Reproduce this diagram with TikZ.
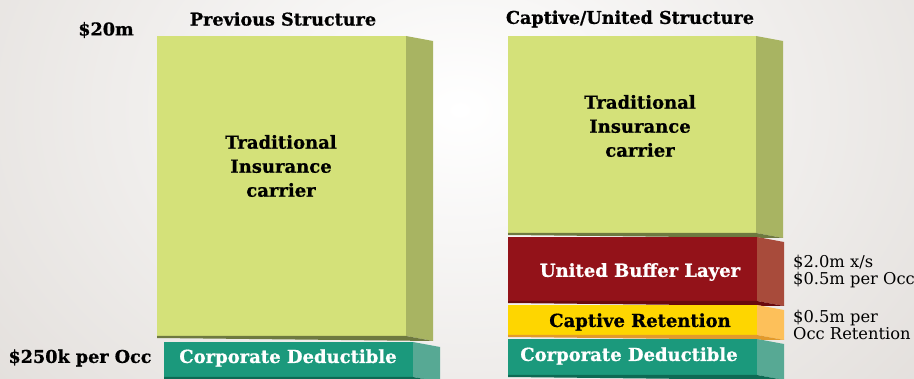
\documentclass[tikz,border=0pt]{standalone}
\usepackage{fontspec}
\setmainfont{DejaVu Serif}
\newfontfamily\slabfont[BoldFeatures={FakeBold=0.8}]{DejaVu Serif}
\newfontfamily\notefont{DejaVu Serif}
\begin{document}
\definecolor{bggray}{HTML}{CCC5BF}
\definecolor{grnF}{HTML}{D4E179}
\definecolor{grnS}{HTML}{A8B462}
\definecolor{grnB}{HTML}{6E7940}
\definecolor{redF}{HTML}{931219}
\definecolor{redS}{HTML}{A84B3B}
\definecolor{redB}{HTML}{6A090D}
\definecolor{ylwF}{HTML}{FED600}
\definecolor{ylwS}{HTML}{FDC05A}
\definecolor{ylwB}{HTML}{E29A2C}
\definecolor{tealF}{HTML}{1B997C}
\definecolor{tealS}{HTML}{57A994}
\definecolor{tealB}{HTML}{0D6A54}
% a block with front face (x1,y1)-(x2,y2), right side and underside
\newcommand\slab[7]{%
  \fill[#7] (#3,#4) -- (#3+27,#4+5) -- (#3+27,#2+5) -- (#3,#2) -- cycle;
  \fill[#6] (#1,#2) rectangle (#3,#4);
  \fill[#5] (#1,#4) -- (#3,#4) -- (#3+27,#4+5) -- (#1,#4+2) -- cycle;
}
\begin{tikzpicture}[x=1pt,y=-1pt,
  title/.style={font=\slabfont\bfseries\fontsize{17.6}{20}\selectfont, inner sep=0pt},
  boxtext/.style={font=\slabfont\bfseries\fontsize{18}{24}\selectfont, align=center, inner sep=0pt},
  note/.style={font=\notefont\fontsize{16.3}{17}\selectfont, align=left, anchor=west, inner sep=0pt}]
\useasboundingbox (0,0) rectangle (914,379);
\begin{scope}
  \clip (0,0) rectangle (914,379);
  \fill[bggray] (0,0) rectangle (914,379);
  \shade[inner color=white, outer color=bggray] (460-1100,110-820) rectangle (460+1100,110+820);
\end{scope}

% previous structure
\slab{157}{36}{406}{336}{grnB}{grnF}{grnS}
\slab{164}{342}{413}{377}{tealB}{tealF}{tealS}
% captive / united structure
\slab{508}{36}{756}{233}{grnB}{grnF}{grnS}
\slab{508}{237}{757}{301}{redB}{redF}{redS}
\slab{508}{305}{757}{335}{ylwB}{ylwF}{ylwS}
\slab{508}{339}{757}{375}{tealB}{tealF}{tealS}

\node[title] (t1) at (283,19) {Previous Structure};
\node[title] (t2) at (630,19) {Captive/United Structure};
\node[title] (top) at (106,30) {\$20m};
\node[title] (low) at (80,358) {\$250k per Occ};

\node[boxtext] (tic1) at (281,166) {Traditional\\Insurance\\carrier};
\node[boxtext] (tic2) at (640,126) {Traditional\\Insurance\\carrier};
\node[boxtext, text=white] (cd1) at (288,358) {Corporate Deductible};
\node[boxtext, text=white] (ubl) at (640,272) {United Buffer Layer};
\node[boxtext] (cr) at (640,322) {Captive Retention};
\node[boxtext, text=white] (cd2) at (629,356) {Corporate Deductible};

\node[note] (n1) at (793,271.5) {\$2.0m x/s\\\$0.5m per Occ};
\node[note] (n2) at (793,325) {\$0.5m per\\Occ Retention};
\end{tikzpicture}
\end{document}
